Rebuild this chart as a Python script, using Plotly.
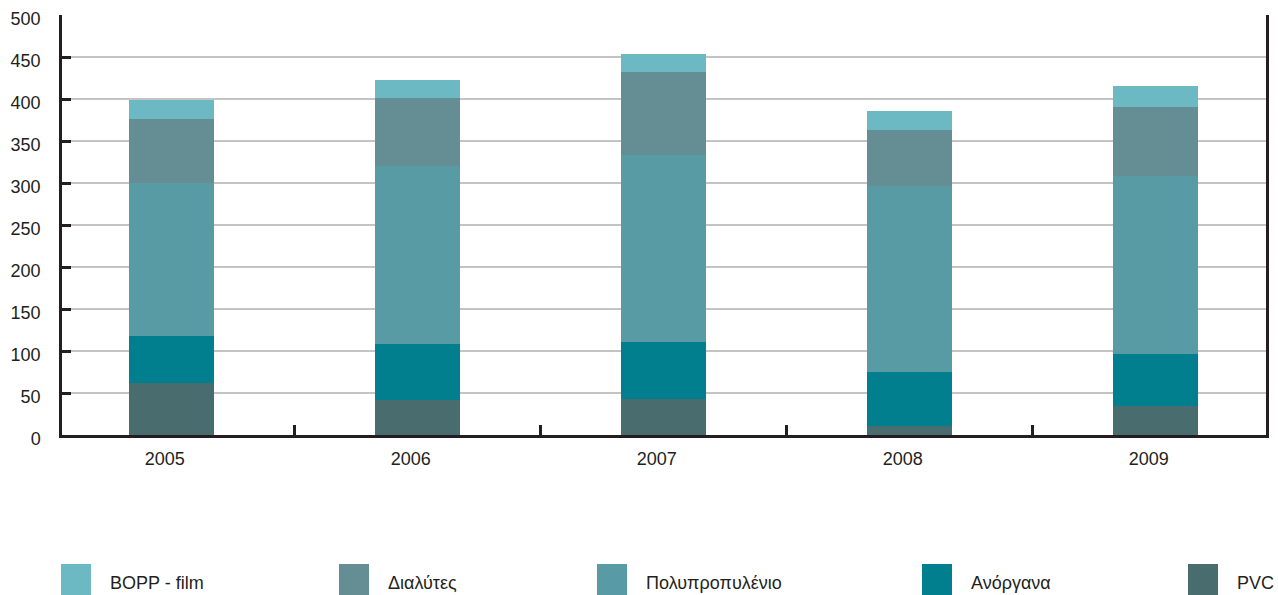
import plotly.graph_objects as go

years = ["2005", "2006", "2007", "2008", "2009"]
series_names = ["PVC", "Ανόργανα", "Πολυπροπυλένιο", "Διαλύτες", "BOPP - film"]
pvc = [61.5, 42, 43, 11, 35]
anorgana = [56.5, 66.5, 68, 64, 61]
polyprop = [182, 212, 222, 222, 212]
dialytes = [76, 81, 99, 66, 83]
bopp = [23, 21.5, 22, 23, 24]
colors = ["#496C6F", "#017F8E", "#589BA5", "#648E93", "#6CB9C4"]

# legend order as in reference (left to right)
legend_order = ["BOPP - film", "Διαλύτες", "Πολυπροπυλένιο", "Ανόργανα", "PVC"]
legend_swatch_px = [61, 339, 597, 922, 1188]

values = [pvc, anorgana, polyprop, dialytes, bopp]
FONT = "Liberation Sans, Arial, Helvetica, sans-serif"
TXT = "#231F20"

fig = go.Figure()
for name, vals, col in zip(series_names, values, colors):
    fig.add_trace(go.Bar(x=years, y=vals, name=name, marker_color=col,
                         marker_line_width=0, width=0.344, showlegend=False))

W, H = 1278, 595
L, R, T, B = 62, 12, 15, 160
pw, ph = W - L - R, H - T - B

def px_x(p):
    return (p - L) / pw

def px_y(p):
    return (H - B - p) / ph

col_by_name = dict(zip(series_names, colors))
shapes = []
annotations = []
for name, sx in zip(legend_order, legend_swatch_px):
    shapes.append(dict(type="rect", xref="paper", yref="paper",
                       x0=px_x(sx), x1=px_x(sx + 30), y0=px_y(600), y1=px_y(564),
                       fillcolor=col_by_name[name], line_width=0, layer="above"))
    annotations.append(dict(xref="paper", yref="paper", x=px_x(sx + 47), y=px_y(583),
                            text=name, showarrow=False, xanchor="left", yanchor="middle",
                            font=dict(family=FONT, size=18, color=TXT)))

fig.update_layout(
    template="none",
    width=W, height=H,
    margin=dict(l=L, r=R, t=T, b=B, pad=0, autoexpand=False),
    barmode="stack",
    plot_bgcolor="white", paper_bgcolor="white",
    font=dict(family=FONT, size=18, color=TXT),
    shapes=shapes, annotations=annotations,
    xaxis=dict(type="category", range=[-0.446, 4.448], showgrid=False, automargin=False,
               showline=True, linecolor=TXT, linewidth=3, mirror=False,
               ticks="inside", ticklen=10, tickwidth=3, tickcolor=TXT,
               tickson="boundaries", ticklabelstandoff=5, ticklabelshift=-7,
               tickfont=dict(size=18, color=TXT)),
    yaxis=dict(range=[0, 500], tick0=0, dtick=50, showgrid=True, automargin=False,
               gridcolor="#C4C4C4", gridwidth=1.5, zeroline=False,
               showline=True, linecolor=TXT, linewidth=2.5, mirror=True,
               ticks="inside", ticklen=9, tickwidth=2.5, tickcolor=TXT,
               ticklabelstandoff=15, ticklabelshift=4,
               tickfont=dict(size=18, color=TXT)),
)

fig.write_html("out.html", config={"displayModeBar": False},
               post_script="document.body.style.margin='0';document.body.style.padding='0';")
